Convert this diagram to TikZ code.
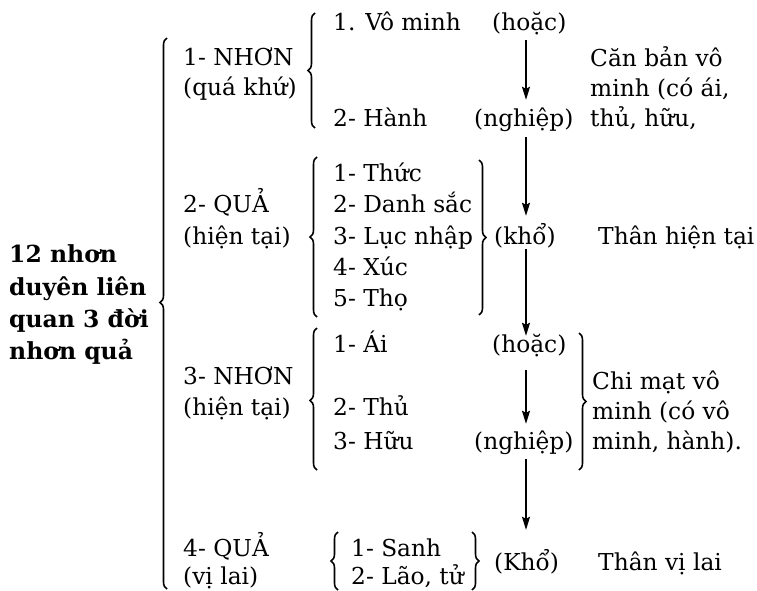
\documentclass[tikz,border=0pt]{standalone}
\usepackage{fontspec}
\setmainfont{DejaVu Serif}
\usetikzlibrary{decorations.pathreplacing,arrows.meta}
\begin{document}
\begin{tikzpicture}[x=1pt,y=-1pt,
  txt/.style={anchor=base west, inner sep=0pt, text height=16pt, text depth=5pt,
              font=\fontsize{23.3}{28}\selectfont},
  boldtxt/.style={txt, font=\fontsize{23.5}{28}\selectfont\bfseries},
  arr/.style={line width=1.5pt, -{Stealth[length=13pt,width=8pt,inset=2pt]}},
  lbr/.style={line width=1.6pt, decorate, decoration={brace, amplitude=7pt, aspect=#1}},
  lbr/.default=0.5
]
\useasboundingbox (0,0) rectangle (757,591);
\coordinate (axis) at (526,0);

% title block
\node[boldtxt] (m1) at (9,262) {12 nhơn};
\node[boldtxt] (m2) at (9,295) {duyên liên};
\node[boldtxt] (m3) at (9,327) {quan 3 đời};
\node[boldtxt] (m4) at (9,359) {nhơn quả};
\draw[lbr=0.52] (167,589) -- (167,38);

% group 1
\node[txt] (g1a) at (183,66) {1- NHƠN};
\node[txt] (g1b) at (183,96) {(quá khứ)};
\draw[lbr] (315,128) -- (315,13);
\node[txt] (vominh) at (333,31) {1. Vô minh};
\node[txt] (hanh) at (333,127) {2- Hành};
\node[txt] (hoac1) at (492,31) {(hoặc)};
\node[txt] (nghiep1) at (474,127) {(nghiệp)};
\node[txt] (c1) at (590,67) {Căn bản vô};
\node[txt] (c2) at (590,97) {minh (có ái,};
\node[txt] (c3) at (590,127) {thủ, hữu,};

% group 2
\node[txt] (g2a) at (183,212) {2- QUẢ};
\node[txt] (g2b) at (183,244) {(hiện tại)};
\draw[lbr] (317,317) -- (317,157);
\node[txt] (q1) at (333,181) {1- Thức};
\node[txt] (q2) at (333,212) {2- Danh sắc};
\node[txt] (q3) at (333,244) {3- Lục nhập};
\node[txt] (q4) at (333,275) {4- Xúc};
\node[txt] (q5) at (333,306) {5- Thọ};
\draw[lbr] (479,160) -- (479,315);
\node[txt] (kho) at (494,244) {(khổ)};
\node[txt] (than1) at (598,244) {Thân hiện tại};

% group 3
\node[txt] (g3a) at (183,384) {3- NHƠN};
\node[txt] (g3b) at (183,415) {(hiện tại)};
\draw[lbr=0.49] (317,470) -- (317,328);
\node[txt] (ai) at (333,352) {1- Ái};
\node[txt] (thu) at (333,415) {2- Thủ};
\node[txt] (huu) at (333,449) {3- Hữu};
\node[txt] (hoac2) at (492,352) {(hoặc)};
\node[txt] (nghiep2) at (474,449) {(nghiệp)};
\draw[lbr] (579,333) -- (579,470);
\node[txt] (d1) at (592,389) {Chi mạt vô};
\node[txt] (d2) at (592,419) {minh (có vô};
\node[txt] (d3) at (592,449) {minh, hành).};

% group 4
\node[txt] (g4a) at (183,556) {4- QUẢ};
\node[txt] (g4b) at (183,584) {(vị lai)};
\draw[lbr] (338,590) -- (338,532);
\node[txt] (sanh) at (351,556) {1- Sanh};
\node[txt] (lao) at (351,584) {2- Lão, tử};
\draw[lbr] (472,532) -- (472,590);
\node[txt] (kho2) at (494,570) {(Khổ)};
\node[txt] (than2) at (598,570) {Thân vị lai};

% arrows along the common vertical axis
\draw[arr, shorten <=4pt, shorten >=11pt] (hoac1.south -| axis) -- (nghiep1.north -| axis);
\draw[arr, shorten <=5pt, shorten >=12pt] (nghiep1.south -| axis) -- (kho.north -| axis);
\draw[arr] (kho.south -| axis) -- (hoac2.north -| axis);
\draw[arr, shorten <=13pt, shorten >=9pt] (hoac2.south -| axis) -- (nghiep2.north -| axis);
\draw[arr, shorten <=5pt, shorten >=24pt] (nghiep2.south -| axis) -- (kho2.north -| axis);
\end{tikzpicture}
\end{document}
